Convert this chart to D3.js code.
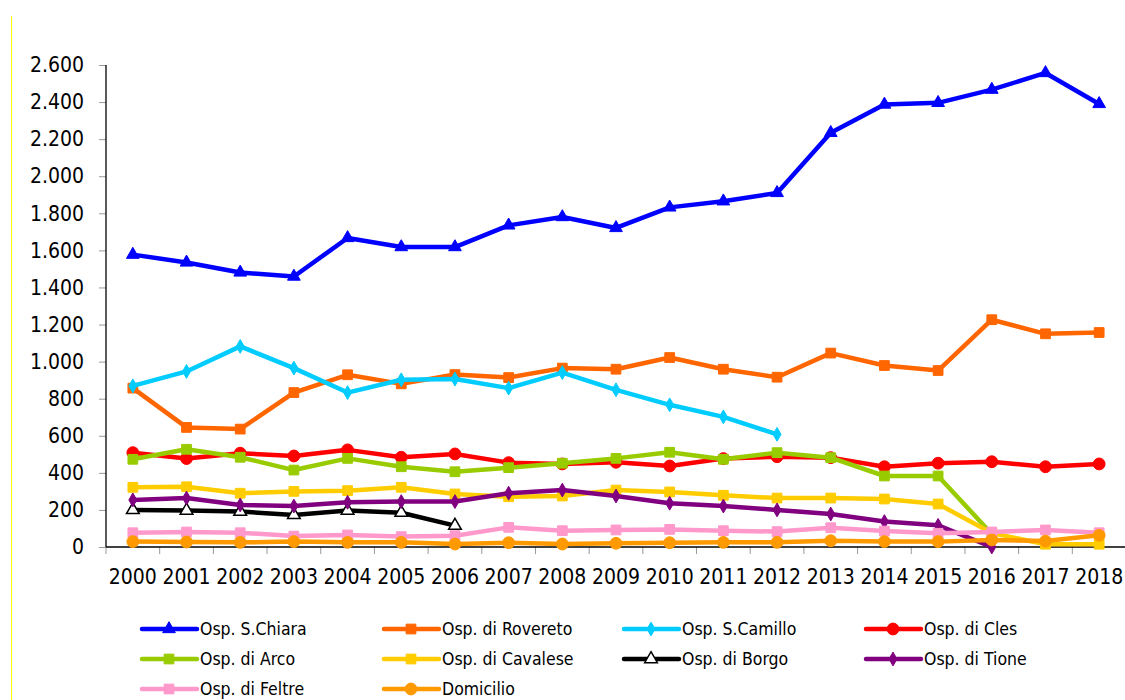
<!DOCTYPE html>
<html>
<head>
<meta charset="utf-8">
<script src="https://cdn.jsdelivr.net/npm/d3@7"></script>
<style>
  body { margin: 0; background: #fff; }
  svg { display: block; font-family: Tahoma, "DejaVu Sans Condensed", sans-serif; }
</style>
</head>
<body>
<div id="chart"></div>
<script>
var years = ["2000","2001","2002","2003","2004","2005","2006","2007","2008","2009",
             "2010","2011","2012","2013","2014","2015","2016","2017","2018"];
var yTicks = [0,200,400,600,800,1000,1200,1400,1600,1800,2000,2200,2400,2600];

var sChiara   = [1577,1535,1481,1459,1667,1618,1618,1735,1780,1721,1832,1865,1910,2234,2387,2396,2467,2557,2390];
var rovereto  = [857,645,636,833,929,880,930,914,965,959,1022,959,916,1046,979,952,1226,1150,1157];
var sCamillo  = [869,947,1082,965,833,902,906,857,941,848,767,702,608,null,null,null,null,null,null];
var cles      = [509,477,506,491,524,484,502,455,448,457,437,477,487,482,433,452,460,433,448];
var arco      = [473,527,484,415,478,433,406,428,452,478,511,473,509,482,383,383,70,null,null];
var cavalese  = [322,325,290,300,304,322,286,271,275,307,297,279,264,264,259,232,75,15,15];
var borgo     = [200,197,191,173,197,185,115,null,null,null,null,null,null,null,null,null,null,null,null];
var tione     = [254,264,227,221,241,245,245,290,307,275,236,221,200,178,137,117,0,null,null];
var feltre    = [77,81,77,59,65,56,61,106,88,92,95,88,83,104,86,74,81,92,77];
var domicilio = [29,27,25,29,25,25,16,23,16,20,23,25,25,34,29,29,38,32,63];

var seriesNames = ["Osp. S.Chiara","Osp. di Rovereto","Osp. S.Camillo","Osp. di Cles","Osp. di Arco",
                   "Osp. di Cavalese","Osp. di Borgo","Osp. di Tione","Osp. di Feltre","Domicilio"];
var seriesValues = [sChiara, rovereto, sCamillo, cles, arco, cavalese, borgo, tione, feltre, domicilio];
var seriesColors = ["#0000ff","#ff6600","#00ccff","#ff0000","#99cc00","#ffcc00","#000000","#800080","#ff99cc","#ff9900"];
var seriesMarkers = ["triangle","square","diamond","circle","square","square","openTriangle","diamond","square","circle"];

var width = 1125, height = 700;
var plotLeft = 106, plotRight = 1126, plotTop = 65, plotBottom = 547;
var fontStack = "Tahoma, 'DejaVu Sans Condensed', sans-serif";

var svg = d3.select("#chart").append("svg")
    .attr("width", width)
    .attr("height", height);

// thin yellow frame edge on the left
svg.append("line")
    .attr("x1", 11.5).attr("x2", 11.5)
    .attr("y1", 16).attr("y2", height)
    .attr("stroke", "#ffff00").attr("stroke-width", 1);

var x = d3.scaleBand().domain(years).range([plotLeft, plotRight]).padding(0);
var y = d3.scaleLinear().domain([0, 2600]).range([plotBottom, plotTop]);
var cx = (yr) => x(yr) + x.bandwidth() / 2;

var itFormat = d3.formatLocale({ decimal: ",", thousands: ".", grouping: [3], currency: ["", ""] }).format(",");

// y axis
var yAxis = svg.append("g")
    .attr("transform", "translate(" + plotLeft + ",0)")
    .call(d3.axisLeft(y).tickValues(yTicks).tickFormat(itFormat).tickSize(7).tickPadding(15).tickSizeOuter(0));
yAxis.select(".domain").remove();
yAxis.selectAll(".tick line").attr("stroke", "#999");
yAxis.selectAll("text").attr("font-size", 21).attr("fill", "#000").attr("font-family", fontStack);

// x axis labels
var xAxis = svg.append("g")
    .attr("transform", "translate(0," + plotBottom + ")")
    .call(d3.axisBottom(x).tickSize(0).tickPadding(22));
xAxis.select(".domain").remove();
xAxis.selectAll("text").attr("font-size", 21).attr("fill", "#000").attr("font-family", fontStack);

// x tick marks at category boundaries
var bounds = years.map((d) => x(d)).concat([plotRight]);
svg.append("g").selectAll("line")
    .data(bounds)
    .enter().append("line")
    .attr("x1", (d) => d).attr("x2", (d) => d)
    .attr("y1", plotBottom).attr("y2", plotBottom + 7)
    .attr("stroke", "#999");

// axis lines
svg.append("line").attr("x1", plotLeft).attr("x2", plotLeft).attr("y1", plotTop).attr("y2", plotBottom)
    .attr("stroke", "#000").attr("stroke-width", 1.3);
svg.append("line").attr("x1", plotLeft).attr("x2", plotRight).attr("y1", plotBottom).attr("y2", plotBottom)
    .attr("stroke", "#000").attr("stroke-width", 1.3);

var symbolFor = (m) => {
    if (m == "triangle" || m == "openTriangle") return d3.symbol().type(d3.symbolTriangle).size(70);
    if (m == "square") return d3.symbol().type(d3.symbolSquare).size(95);
    if (m == "diamond") return d3.symbol().type(d3.symbolDiamond).size(55);
    return d3.symbol().type(d3.symbolCircle).size(110);
};

var drawMarker = (g, m, color, px, py) => {
    g.append("path")
        .attr("d", symbolFor(m)())
        .attr("transform", "translate(" + px + "," + py + ")")
        .attr("fill", m == "openTriangle" ? "#fff" : color)
        .attr("stroke", color)
        .attr("stroke-width", m == "openTriangle" ? 1.5 : 1);
};

var line = d3.line()
    .defined((d) => d.v != null)
    .x((d) => cx(d.year))
    .y((d) => y(d.v));

seriesValues.forEach((vals, i) => {
    var pts = years.map((yr, j) => ({ year: yr, v: vals[j] }));
    var g = svg.append("g");
    g.append("path")
        .datum(pts)
        .attr("fill", "none")
        .attr("stroke", seriesColors[i])
        .attr("stroke-width", 4.5)
        .attr("stroke-linejoin", "round")
        .attr("d", line);
    pts.filter((d) => d.v != null).forEach((d) => {
        drawMarker(g, seriesMarkers[i], seriesColors[i], cx(d.year), y(d.v));
    });
});

// legend
var legCols = [142, 384, 624, 866];
var legRows = [629, 659, 689];
seriesNames.forEach((name, i) => {
    var lx = legCols[i % 4], ly = legRows[Math.floor(i / 4)];
    var g = svg.append("g");
    g.append("line")
        .attr("x1", lx).attr("x2", lx + 55)
        .attr("y1", ly).attr("y2", ly)
        .attr("stroke", seriesColors[i]).attr("stroke-width", 4.5)
        .attr("stroke-linecap", "round");
    drawMarker(g, seriesMarkers[i], seriesColors[i], lx + 27, ly);
    g.append("text")
        .attr("x", lx + 58).attr("y", ly)
        .attr("dy", "0.35em")
        .attr("font-size", 17.5)
        .text(name);
});
</script>
</body>
</html>
